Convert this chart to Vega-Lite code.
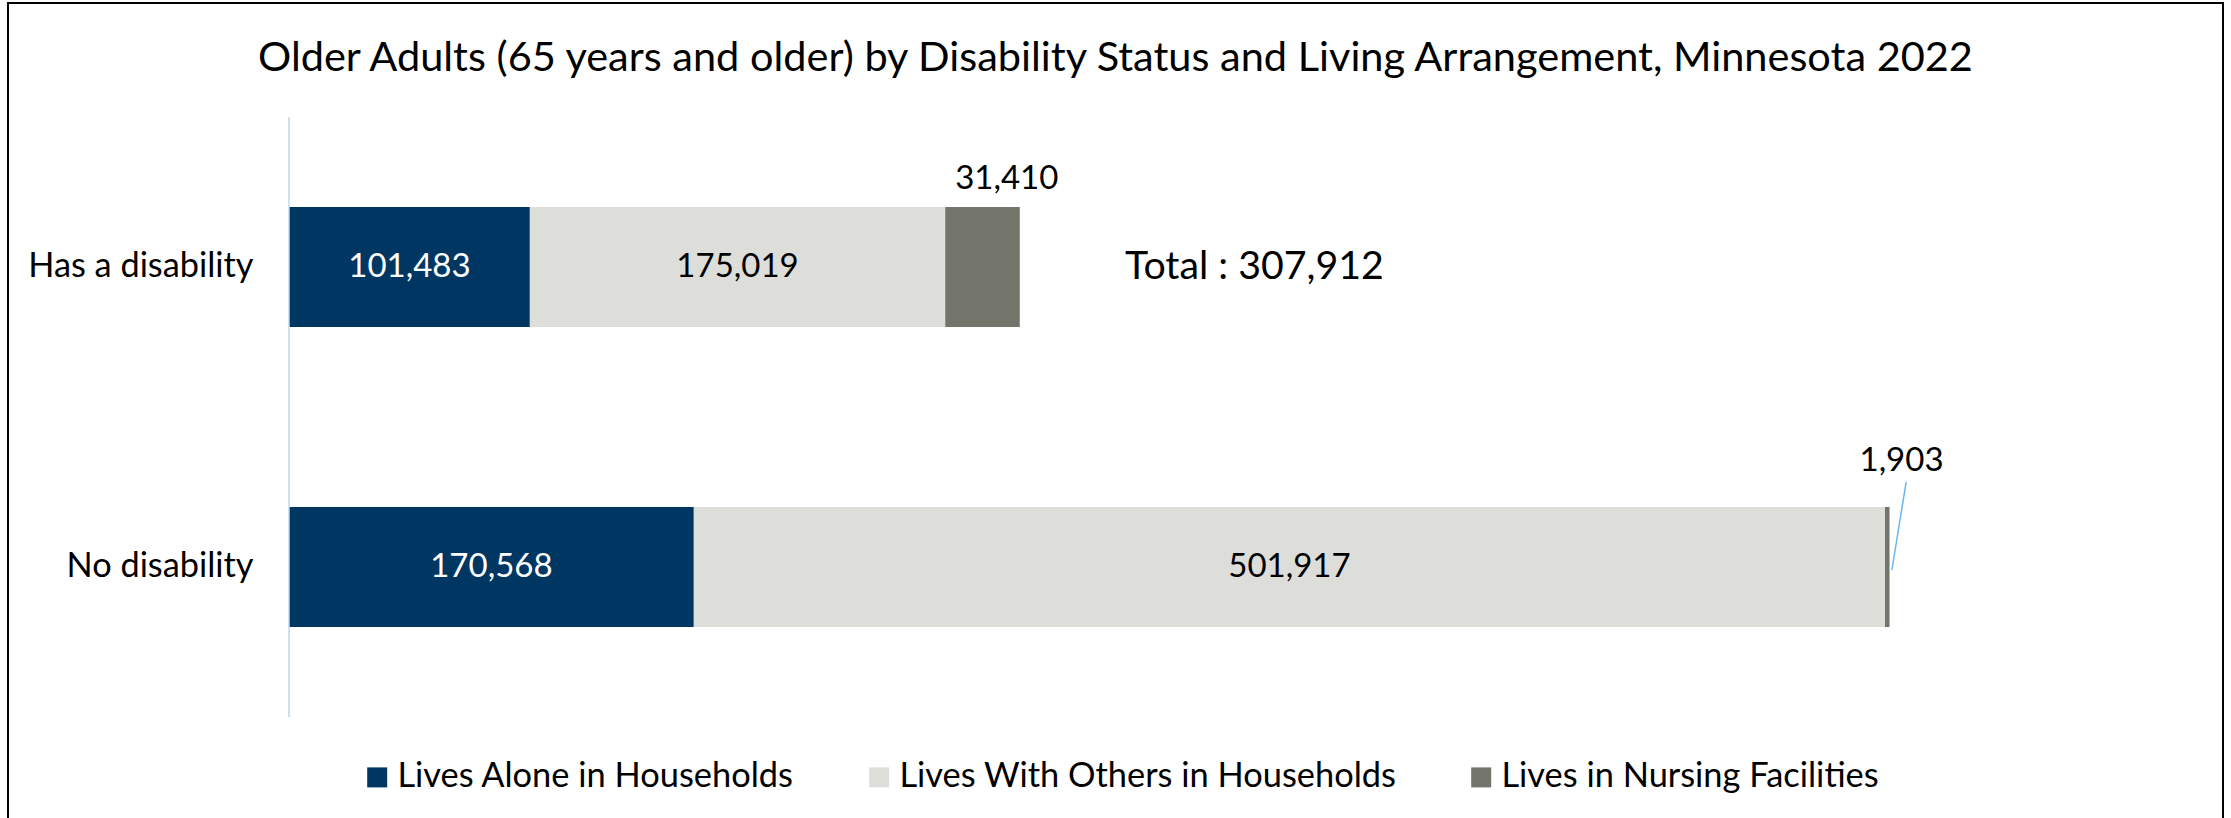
{
  "$schema": "https://vega.github.io/schema/vega-lite/v6.json",
  "width": 2215,
  "height": 828,
  "autosize": "none",
  "padding": {"left": 8, "top": 3, "right": 8, "bottom": 0},
  "background": "white",
  "config": {
    "view": {"stroke": "black", "strokeWidth": 2},
    "font": "Lato",
    "text": {"font": "Lato"}
  },
  "title": {
    "text": "Older Adults (65 years and older) by Disability Status and Living Arrangement, Minnesota 2022",
    "anchor": "middle",
    "frame": "group",
    "fontSize": 41.5,
    "fontWeight": "normal",
    "font": "Lato",
    "color": "black",
    "offset": -76
  },
  "data": {
    "values": [
      {"status": "Has a disability", "arrangement": "Lives Alone in Households", "people": 101483},
      {"status": "Has a disability", "arrangement": "Lives With Others in Households", "people": 175019},
      {"status": "Has a disability", "arrangement": "Lives in Nursing Facilities", "people": 31410},
      {"status": "No disability", "arrangement": "Lives Alone in Households", "people": 170568},
      {"status": "No disability", "arrangement": "Lives With Others in Households", "people": 501917},
      {"status": "No disability", "arrangement": "Lives in Nursing Facilities", "people": 1903}
    ]
  },
  "layer": [
    {
      "mark": {"type": "bar"},
      "encoding": {
        "x": {
          "field": "people",
          "type": "quantitative",
          "stack": "zero",
          "scale": {"domain": [-118400, 814900], "nice": false, "zero": false},
          "axis": null
        },
        "y": {
          "field": "status",
          "type": "nominal",
          "scale": {"paddingInner": 0.6, "paddingOuter": 0.68},
          "axis": {
            "title": null,
            "offset": -281,
            "domain": false,
            "ticks": false,
            "labelPadding": 36,
            "labelFontSize": 34.3,
            "labelFont": "Lato",
            "labelColor": "black",
            "labelLimit": 0
          }
        },
        "order": {"field": "arrangement", "sort": "ascending"},
        "color": {
          "field": "arrangement",
          "type": "nominal",
          "scale": {
            "domain": ["Lives Alone in Households", "Lives With Others in Households", "Lives in Nursing Facilities"],
            "range": ["#003662", "#DDDED9", "#73746A"]
          },
          "legend": {
            "orient": "none",
            "legendX": 352,
            "legendY": 757,
            "direction": "horizontal",
            "title": null,
            "symbolType": "square",
            "symbolSize": 400,
            "symbolStrokeWidth": 0,
            "labelFontSize": 34.4,
            "labelFont": "Lato",
            "labelColor": "black",
            "labelOffset": 3,
            "labelLimit": 0,
            "columnPadding": 67
          }
        }
      }
    },
    {
      "data": {"values": [{}]},
      "mark": {"type": "rule", "color": "#BDD7EE", "strokeWidth": 1.5},
      "encoding": {
        "x": {"datum": 0, "type": "quantitative"},
        "y": {"datum": "Has a disability", "type": "nominal", "bandPosition": -0.75},
        "y2": {"datum": "No disability", "bandPosition": 1.75}
      }
    },
    {
      "mark": {"type": "text", "fontSize": 33, "baseline": "middle", "align": "center"},
      "encoding": {
        "x": {"field": "people", "type": "quantitative", "stack": "zero", "bandPosition": 0.5},
        "y": {"field": "status", "type": "nominal"},
        "detail": {"field": "arrangement"},
        "order": {"field": "arrangement", "sort": "ascending"},
        "text": {
          "condition": {"test": "datum.arrangement === 'Lives in Nursing Facilities'", "value": ""},
          "field": "people",
          "type": "quantitative",
          "format": ","
        },
        "color": {
          "condition": {"test": "datum.arrangement === 'Lives Alone in Households'", "value": "white"},
          "value": "black"
        }
      }
    },
    {
      "transform": [
        {"stack": "people", "groupby": ["status"], "sort": [{"field": "arrangement", "order": "ascending"}], "as": ["start", "end"]},
        {"filter": "datum.arrangement === 'Lives in Nursing Facilities' && datum.status === 'Has a disability'"}
      ],
      "mark": {"type": "text", "fontSize": 33, "baseline": "middle", "align": "center", "dx": -13, "dy": -88, "color": "black"},
      "encoding": {
        "x": {"field": "end", "type": "quantitative"},
        "y": {"field": "status", "type": "nominal"},
        "text": {"field": "people", "type": "quantitative", "format": ","}
      }
    },
    {
      "transform": [
        {"stack": "people", "groupby": ["status"], "sort": [{"field": "arrangement", "order": "ascending"}], "as": ["start", "end"]},
        {"filter": "datum.arrangement === 'Lives in Nursing Facilities' && datum.status === 'No disability'"}
      ],
      "mark": {"type": "text", "fontSize": 33, "baseline": "middle", "align": "center", "dx": 12, "dy": -106, "color": "black"},
      "encoding": {
        "x": {"field": "end", "type": "quantitative"},
        "y": {"field": "status", "type": "nominal"},
        "text": {"field": "people", "type": "quantitative", "format": ","}
      }
    },
    {
      "data": {"values": [{}]},
      "mark": {"type": "rule", "color": "#6BB8F0", "strokeWidth": 1.5},
      "encoding": {
        "x": {"datum": 675400, "type": "quantitative"},
        "x2": {"datum": 681400},
        "y": {"datum": "No disability", "type": "nominal", "bandPosition": 0.525},
        "y2": {"datum": "No disability", "bandPosition": -0.21}
      }
    },
    {
      "data": {"values": [{}]},
      "mark": {"type": "text", "fontSize": 39.3, "baseline": "middle", "align": "left", "color": "black"},
      "encoding": {
        "x": {"datum": 352250, "type": "quantitative"},
        "y": {"datum": "Has a disability", "type": "nominal"},
        "text": {"value": "Total : 307,912"}
      }
    }
  ]
}
